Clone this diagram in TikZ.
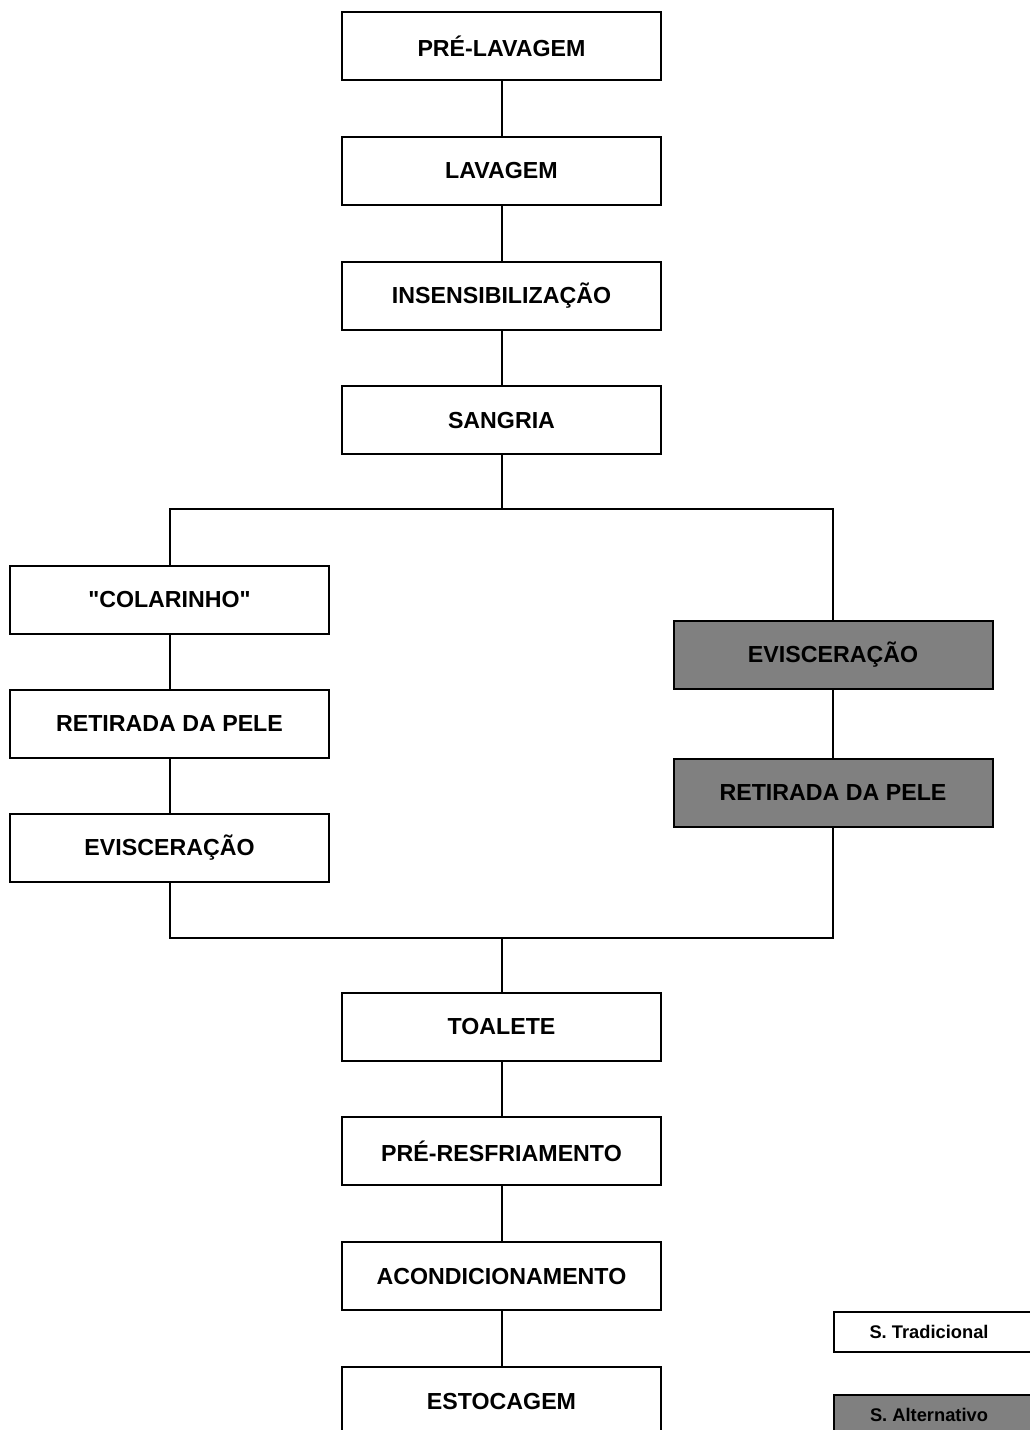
\documentclass[tikz,border=0pt]{standalone}
\usepackage{fontspec}
\setmainfont{Liberation Sans}[Ligatures=TeXOff]
\begin{document}
\begin{tikzpicture}[x=1pt,y=-1pt,
  stepbox/.style={draw=black, line width=2pt, fill=white, minimum width=319pt, minimum height=68pt, inner sep=0pt, font=\fontsize{23.2}{26}\selectfont\bfseries},
  altbox/.style={stepbox, fill=altgray},
  conn/.style={line width=2pt, line cap=rect},
  legbox/.style={draw=black, line width=2pt, minimum width=215pt, minimum height=40pt, inner sep=0pt, anchor=west},
  legtext/.style={font=\fontsize{18.3}{21}\selectfont\bfseries, inner sep=0pt}]
\definecolor{altgray}{HTML}{808080}
\useasboundingbox (0,0) rectangle (1030,1430);
\clip (0,0) rectangle (1030,1430);
\fill[white] (0,0) rectangle (1030,1430);
% main column
\node[stepbox] (prelav) at (501.5,46) {PRÉ-LAVAGEM};
\node[stepbox] (lav) at (501.5,170.8) {LAVAGEM};
\node[stepbox] (insens) at (501.5,295.6) {INSENSIBILIZAÇÃO};
\node[stepbox] (sang) at (501.5,420.4) {SANGRIA};
% left column
\node[stepbox] (colar) at (169.5,599.5) {"COLARINHO"};
\node[stepbox] (retl) at (169.5,723.5) {RETIRADA DA PELE};
\node[stepbox] (evil) at (169.5,847.5) {EVISCERAÇÃO};
% right column
\node[altbox] (evir) at (833,654.5) {EVISCERAÇÃO};
\node[altbox] (retr) at (833,792.5) {RETIRADA DA PELE};
% bottom column
\node[stepbox] (toal) at (501.5,1026.5) {TOALETE};
\node[stepbox] (preres) at (501.5,1151) {PRÉ-RESFRIAMENTO};
\node[stepbox] (acond) at (501.5,1276) {ACONDICIONAMENTO};
\node[stepbox] (estoc) at (501.5,1401) {ESTOCAGEM};
% legend
\node[legbox, fill=white] (legt) at (833,1332) {};
\node[legtext] (legtt) at (929,1332) {S. Tradicional};
\node[legbox, fill=altgray] (lega) at (833,1415) {};
\node[legtext] (legat) at (929,1415) {S. Alternativo};
% coordinates
\coordinate (split) at (501.5,509);
\coordinate (merge) at (501.5,938);
% connectors
\draw[conn] (prelav) -- (lav);
\draw[conn] (lav) -- (insens);
\draw[conn] (insens) -- (sang);
\draw[conn] (sang) -- (split);
\draw[conn] (colar.north) |- (split) -| (evir.north);
\draw[conn] (colar) -- (retl);
\draw[conn] (retl) -- (evil);
\draw[conn] (evir) -- (retr);
\draw[conn] (evil.south) |- (merge) -| (retr.south);
\draw[conn] (merge) -- (toal);
\draw[conn] (toal) -- (preres);
\draw[conn] (preres) -- (acond);
\draw[conn] (acond) -- (estoc);
\end{tikzpicture}
\end{document}
